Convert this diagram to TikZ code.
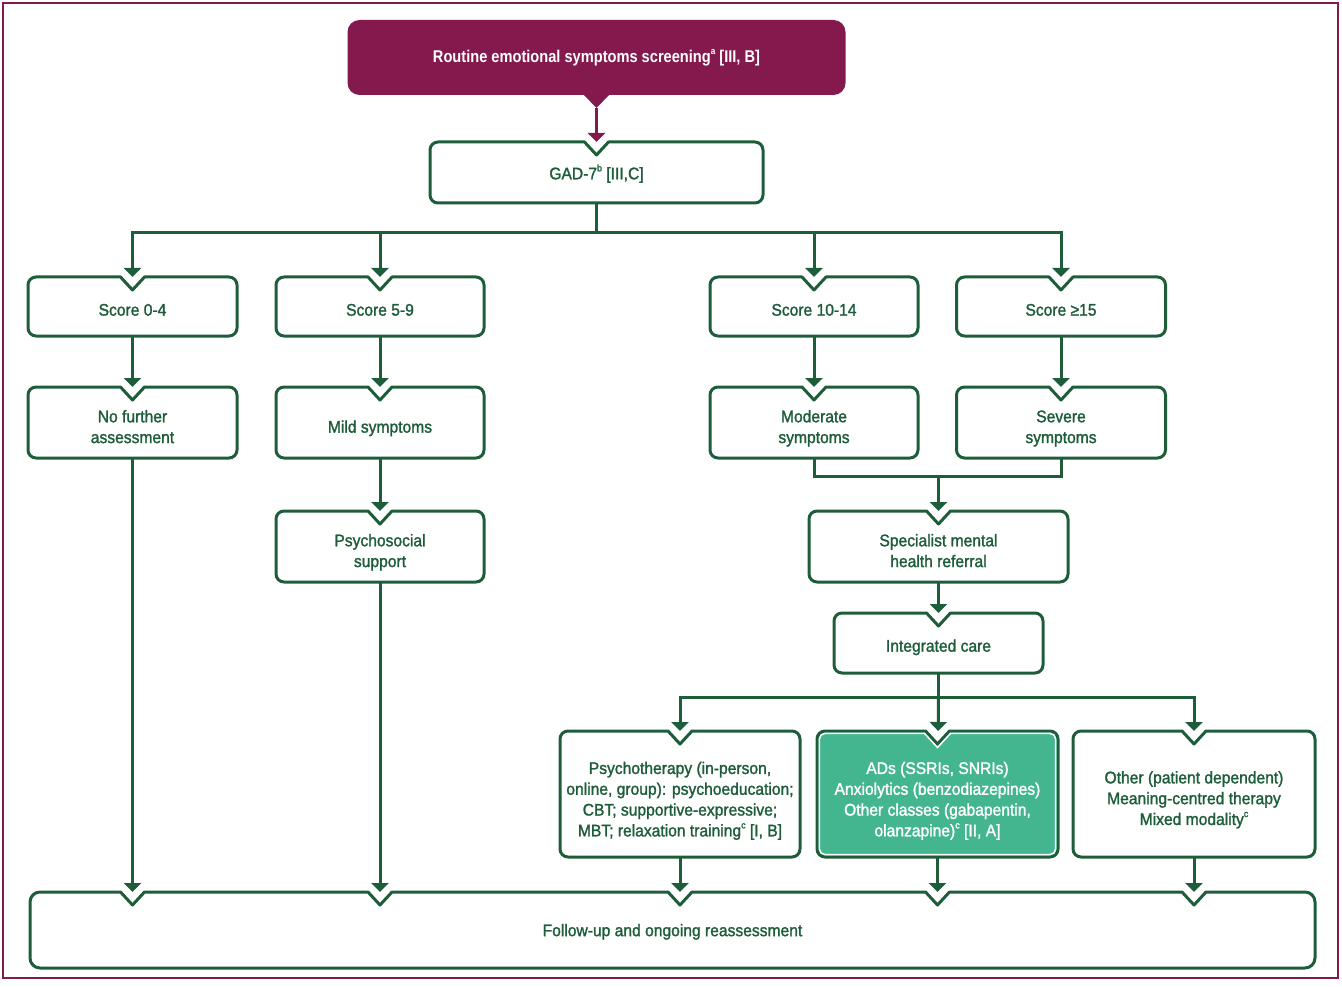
\documentclass[tikz,border=0pt]{standalone}
\usepackage{fontspec}
\setmainfont{Liberation Sans}[FakeStretch=0.93,FakeBold=1.5]
\newfontfamily\topfont{Liberation Sans}[FakeStretch=0.86]
\usetikzlibrary{arrows.meta,calc}
\definecolor{mar}{HTML}{84194E}
\definecolor{gr}{HTML}{1E5D3A}
\definecolor{tealc}{HTML}{43B68F}
\pgfdeclarelayer{background}
\pgfsetlayers{background,main}
\newcommand\tx[2][6pt]{\raisebox{-#1}[\height][\depth]{\begin{tabular}{@{}c@{}}#2\end{tabular}}}
\newcommand\sps[1]{\raisebox{0.9ex}{\fontsize{9.5}{9.5}\selectfont #1}}
% notched rounded box outline drawn from a node's anchors; #1 inset
\newcommand\nbox[3][0]{%
\path[#2] let \p1=(#3.north west), \p2=(#3.south east), \p3=(#3.north) in
 ({\x3+12pt+0.44*#1pt},{\y1-#1pt}) -- ({\x2-8pt},{\y1-#1pt})
 arc[start angle=90,end angle=0,radius={8pt-#1pt}] -- ({\x2-#1pt},{\y2+8pt})
 arc[start angle=0,end angle=-90,radius={8pt-#1pt}] -- ({\x1+8pt},{\y2+#1pt})
 arc[start angle=270,end angle=180,radius={8pt-#1pt}] -- ({\x1+#1pt},{\y1-8pt})
 arc[start angle=180,end angle=90,radius={8pt-#1pt}] -- ({\x3-12pt-0.44*#1pt},{\y1-#1pt})
 -- (\x3,{\y1-13pt-1.47*#1pt}) -- cycle;}
\tikzset{
 box/.style={inner sep=0pt, outer sep=0pt, text=gr, font=\fontsize{16.8}{20.8}\selectfont},
 conn/.style={draw=gr, line width=3pt},
 arr/.style={conn, -{Triangle[width=17pt,length=9pt]}},
 boxline/.style={draw=gr, line width=3pt, line join=round, fill=white},
}
\begin{document}
\begin{tikzpicture}[x=1pt,y=-1pt]
\useasboundingbox (0,0) rectangle (1342,987);
\draw[draw=mar, line width=2pt] (3,3) rectangle (1338,978);

\node[box, minimum width=498pt, minimum height=75pt, text=white, font=\topfont\bfseries\fontsize{17}{21}\selectfont] (top) at (596.5,57.5) {Routine emotional symptoms screening\sps{a} [III, B]};
\node[box, minimum width=333pt, minimum height=61pt] (gad) at (596.5,172.5) {\tx[2.5pt]{GAD-7\sps{b} [III,C]}};

\node[box, minimum width=209pt, minimum height=59pt] (s04) at (132.5,306.5) {\tx[5pt]{Score 0-4}};
\node[box, minimum width=208pt, minimum height=59pt] (s59) at (380,306.5) {\tx[5pt]{Score 5-9}};
\node[box, minimum width=208pt, minimum height=59pt] (s1014) at (814,306.5) {\tx[5pt]{Score 10-14}};
\node[box, minimum width=209pt, minimum height=59pt] (s15) at (1061,306.5) {\tx[5pt]{Score ≥15}};

\node[box, minimum width=209pt, minimum height=71pt] (nofurther) at (132.5,422.5) {\tx{No further\\assessment}};
\node[box, minimum width=208pt, minimum height=71pt] (mild) at (380,422.5) {\tx{Mild symptoms}};
\node[box, minimum width=208pt, minimum height=71pt] (moderate) at (814,422.5) {\tx{Moderate\\symptoms}};
\node[box, minimum width=209pt, minimum height=71pt] (severe) at (1061,422.5) {\tx{Severe\\symptoms}};

\node[box, minimum width=208pt, minimum height=71pt] (psysup) at (380,546.5) {\tx{Psychosocial\\support}};
\node[box, minimum width=259pt, minimum height=71pt] (spec) at (938.5,546.5) {\tx{Specialist mental\\health referral}};
\node[box, minimum width=209pt, minimum height=60pt] (integ) at (938.5,643) {\tx[4.5pt]{Integrated care}};

\node[box, minimum width=240pt, minimum height=126pt] (psy) at (680,794) {\tx[7pt]{Psychotherapy (in-person,\\online, group): psychoeducation;\\CBT; supportive-expressive;\\MBT; relaxation training\sps{c} [I, B]}};
\node[box, minimum width=241pt, minimum height=126pt, text=white] (ads) at (937.5,794) {\tx[7pt]{ADs (SSRIs, SNRIs)\\Anxiolytics (benzodiazepines)\\Other classes (gabapentin,\\olanzapine)\sps{c} [II, A]}};
\node[box, minimum width=242pt, minimum height=126pt] (other) at (1194,794) {\tx[6pt]{Other (patient dependent)\\Meaning-centred therapy\\Mixed modality\sps{c}}};

\node[box, minimum width=1285pt, minimum height=76pt] (fu) at (672.5,930) {\tx[2pt]{Follow-up and ongoing reassessment}};

\begin{pgfonlayer}{background}
\fill[mar] let \p1=(top.north west), \p2=(top.south east), \p3=(top.south) in
 ({\x1+12pt},\y1) -- ({\x2-12pt},\y1) arc[start angle=90,end angle=0,radius=12pt]
 -- (\x2,{\y2+12pt}) arc[start angle=0,end angle=-90,radius=12pt]
 -- ({\x3+12.5pt},\y2) -- (\x3,{\y2-13pt}) -- ({\x3-12.5pt},\y2)
 -- ({\x1+12pt},\y2) arc[start angle=270,end angle=180,radius=12pt]
 -- (\x1,{\y1-12pt}) arc[start angle=180,end angle=90,radius=12pt] -- cycle;
\nbox{boxline}{gad}
\nbox{boxline}{s04}
\nbox{boxline}{s59}
\nbox{boxline}{s1014}
\nbox{boxline}{s15}
\nbox{boxline}{nofurther}
\nbox{boxline}{mild}
\nbox{boxline}{moderate}
\nbox{boxline}{severe}
\nbox{boxline}{psysup}
\nbox{boxline}{spec}
\nbox{boxline}{integ}
\nbox{boxline}{psy}
\nbox{boxline,fill=tealc}{ads}
\nbox[2.4]{draw=white,line width=1.5pt}{ads}
\nbox{boxline}{other}
\path[boxline] let \p1=(fu.north west), \p2=(fu.south east), \p4=(nofurther.south), \p5=(psysup.south), \p6=(psy.south), \p7=(ads.south), \p8=(other.south) in
 ({\x1+10pt},\y1)
 -- ({\x4-12pt},\y1) -- (\x4,{\y1-13pt}) -- ({\x4+12pt},\y1)
 -- ({\x5-12pt},\y1) -- (\x5,{\y1-13pt}) -- ({\x5+12pt},\y1)
 -- ({\x6-12pt},\y1) -- (\x6,{\y1-13pt}) -- ({\x6+12pt},\y1)
 -- ({\x7-12pt},\y1) -- (\x7,{\y1-13pt}) -- ({\x7+12pt},\y1)
 -- ({\x8-12pt},\y1) -- (\x8,{\y1-13pt}) -- ({\x8+12pt},\y1)
 -- ({\x2-10pt},\y1) arc[start angle=90,end angle=0,radius=10pt]
 -- (\x2,{\y2+10pt}) arc[start angle=0,end angle=-90,radius=10pt]
 -- ({\x1+10pt},\y2) arc[start angle=270,end angle=180,radius=10pt]
 -- (\x1,{\y1-10pt}) arc[start angle=180,end angle=90,radius=10pt] -- cycle;
\end{pgfonlayer}

\coordinate (tip) at ($(top.south)+(0,13)$);
\coordinate (b1) at (596.5,233);
\coordinate (b2) at (938.5,476);
\coordinate (b3) at (938.5,697);

\draw[arr, draw=mar] (tip) -- (gad);
\draw[conn] (gad) -- (b1);
\draw[arr] (b1) -| (s04);
\draw[arr] (b1) -| (s59);
\draw[arr] (b1) -| (s1014);
\draw[arr] (b1) -| (s15);
\draw[arr] (s04) -- (nofurther);
\draw[arr] (s59) -- (mild);
\draw[arr] (s1014) -- (moderate);
\draw[arr] (s15) -- (severe);
\draw[arr] (mild) -- (psysup);
\draw[conn] (moderate) |- (b2);
\draw[conn] (severe) |- (b2);
\draw[arr] (b2) -- (spec);
\draw[arr] (spec) -- (integ);
\draw[conn] (integ) -- (b3);
\draw[arr] (b3) -| (psy);
\draw[arr] (b3) -- (ads);
\draw[arr] (b3) -| (other);
\draw[arr] (nofurther) -- (nofurther |- fu.north);
\draw[arr] (psysup) -- (psysup |- fu.north);
\draw[arr] (psy) -- (psy |- fu.north);
\draw[arr] (ads) -- (ads |- fu.north);
\draw[arr] (other) -- (other |- fu.north);
\end{tikzpicture}
\end{document}
